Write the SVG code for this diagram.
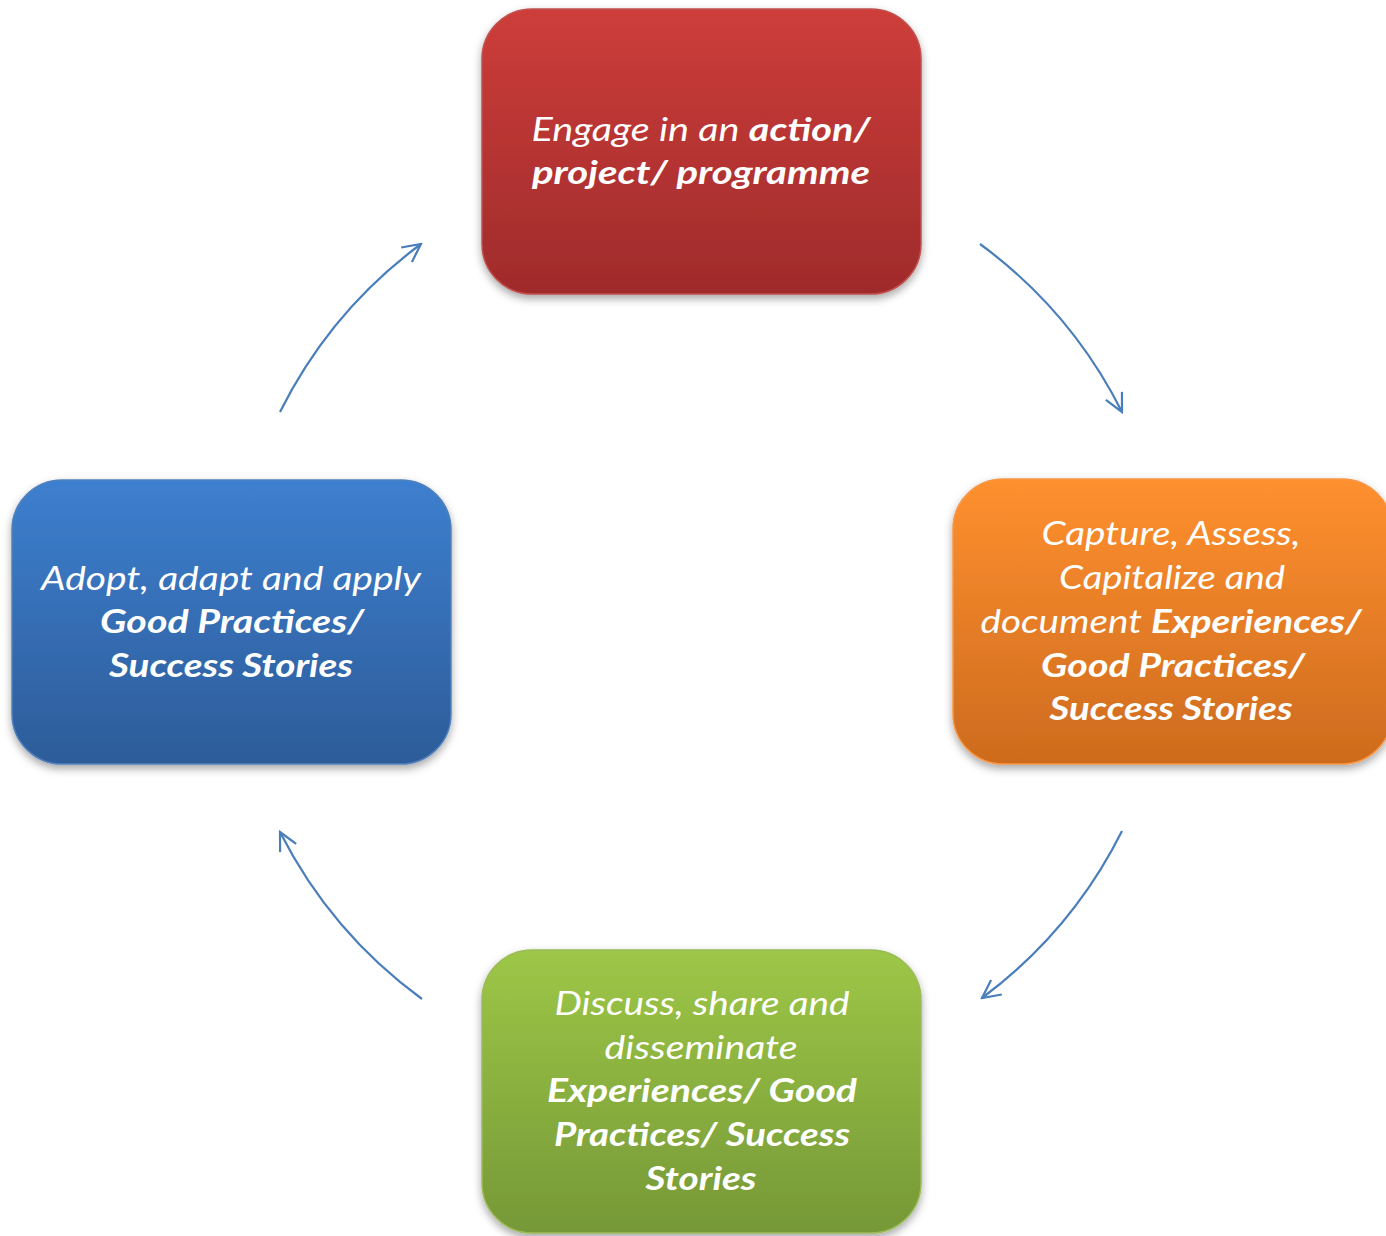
<svg xmlns="http://www.w3.org/2000/svg" width="1386" height="1236" viewBox="0 0 1386 1236">
<style>
.lbl{font-family:Lato,"Open Sans","Liberation Sans",sans-serif;font-size:33px;font-style:italic;fill:#ffffff;text-anchor:middle}
.b{font-weight:bold}
.conn{fill:none;stroke:#4a7ebb;stroke-width:2.2;marker-end:url(#ah)}
</style>
<defs>
<linearGradient id="gRed" x1="0" y1="0" x2="0" y2="1"><stop offset="0" stop-color="#cd3d3a"/><stop offset="1" stop-color="#9f2b2b"/></linearGradient>
<linearGradient id="gOrange" x1="0" y1="0" x2="0" y2="1"><stop offset="0" stop-color="#ff902f"/><stop offset="1" stop-color="#cd6b1e"/></linearGradient>
<linearGradient id="gBlue" x1="0" y1="0" x2="0" y2="1"><stop offset="0" stop-color="#3d7fcf"/><stop offset="1" stop-color="#2d5c99"/></linearGradient>
<linearGradient id="gGreen" x1="0" y1="0" x2="0" y2="1"><stop offset="0" stop-color="#9dc747"/><stop offset="1" stop-color="#769837"/></linearGradient>
<filter id="sh" x="-10%" y="-10%" width="120%" height="125%"><feDropShadow dx="0" dy="4" stdDeviation="4" flood-color="#000" flood-opacity="0.35"/></filter>
<marker id="ah" viewBox="0 0 24 24" refX="22" refY="12" markerWidth="24" markerHeight="24" markerUnits="userSpaceOnUse" orient="auto"><path d="M4,3 L22,12 L4,21" fill="none" stroke="#4a7ebb" stroke-width="2.2"/></marker>
</defs>
<g id="connectors">
<path class="conn" d="M980,244 A470,470 0 0 1 1122,412"/>
<path class="conn" d="M1122,831 A470,470 0 0 1 982,998"/>
<path class="conn" d="M422,999 A470,470 0 0 1 280,832"/>
<path class="conn" d="M280,412 A470,470 0 0 1 421,244"/>
</g>
<g id="node-engage">
<rect x="482" y="9" width="439" height="285" rx="50" fill="url(#gRed)" stroke="#c0504d" stroke-width="1.5" filter="url(#sh)"/>
<text class="lbl" x="701" y="141" textLength="339" lengthAdjust="spacingAndGlyphs">Engage in an <tspan class="b">action/</tspan></text>
<text class="lbl b" x="701" y="184" textLength="338" lengthAdjust="spacingAndGlyphs">project/ programme</text>
</g>
<g id="node-capture">
<rect x="953" y="479" width="439" height="285" rx="50" fill="url(#gOrange)" stroke="#f79646" stroke-width="1.5" filter="url(#sh)"/>
<text class="lbl" x="1171" y="545" textLength="259" lengthAdjust="spacingAndGlyphs">Capture, Assess,</text>
<text class="lbl" x="1172" y="589" textLength="226" lengthAdjust="spacingAndGlyphs">Capitalize and</text>
<text class="lbl" x="1171" y="633" textLength="381" lengthAdjust="spacingAndGlyphs">document <tspan class="b">Experiences/</tspan></text>
<text class="lbl b" x="1173" y="677" textLength="264" lengthAdjust="spacingAndGlyphs">Good Practices/</text>
<text class="lbl b" x="1171" y="720" textLength="243" lengthAdjust="spacingAndGlyphs">Success Stories</text>
</g>
<g id="node-discuss">
<rect x="482" y="950" width="439" height="283" rx="50" fill="url(#gGreen)" stroke="#9bbb59" stroke-width="1.5" filter="url(#sh)"/>
<text class="lbl" x="702" y="1015" textLength="295" lengthAdjust="spacingAndGlyphs">Discuss, share and</text>
<text class="lbl" x="701" y="1059" textLength="193" lengthAdjust="spacingAndGlyphs">disseminate</text>
<text class="lbl b" x="702" y="1102" textLength="310" lengthAdjust="spacingAndGlyphs">Experiences/ Good</text>
<text class="lbl b" x="702" y="1146" textLength="296" lengthAdjust="spacingAndGlyphs">Practices/ Success</text>
<text class="lbl b" x="701" y="1190" textLength="111" lengthAdjust="spacingAndGlyphs">Stories</text>
</g>
<g id="node-adopt">
<rect x="12" y="480" width="439" height="284" rx="50" fill="url(#gBlue)" stroke="#4f81bd" stroke-width="1.5" filter="url(#sh)"/>
<text class="lbl" x="231" y="590" textLength="380" lengthAdjust="spacingAndGlyphs">Adopt, adapt and apply</text>
<text class="lbl b" x="232" y="633" textLength="264" lengthAdjust="spacingAndGlyphs">Good Practices/</text>
<text class="lbl b" x="231" y="677" textLength="244" lengthAdjust="spacingAndGlyphs">Success Stories</text>
</g>
</svg>
